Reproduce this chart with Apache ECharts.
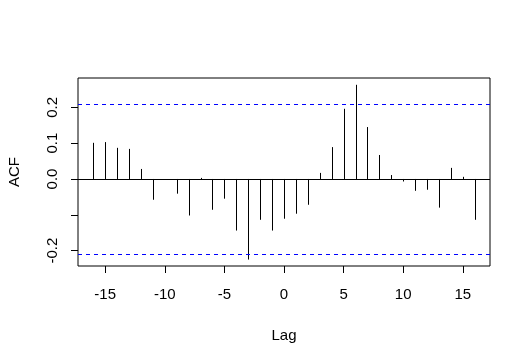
<!DOCTYPE html>
<html>
<head>
<meta charset="utf-8">
<script src="https://cdn.jsdelivr.net/npm/echarts@6/dist/echarts.min.js"></script>
<style>html,body{margin:0;padding:0;background:#fff}#c{width:531px;height:364px}</style>
</head>
<body>
<div id="c"></div>
<script>
var lags = [-16,-15,-14,-13,-12,-11,-10,-9,-8,-7,-6,-5,-4,-3,-2,-1,0,1,2,3,4,5,6,7,8,9,10,11,12,13,14,15,16];
var acf = [0.101,0.103,0.087,0.084,0.028,-0.058,0.000,-0.041,-0.102,0.003,-0.086,-0.055,-0.144,-0.225,-0.114,-0.144,-0.111,-0.097,-0.072,0.017,0.089,0.196,0.263,0.145,0.067,0.011,-0.007,-0.033,-0.030,-0.080,0.031,0.006,-0.114];
var ciBound = 0.208;
var xTicks = [-15,-10,-5,0,5,10,15];
var yTicks = [-0.2,-0.1,0.0,0.1,0.2];
var yLabels = [-0.2,0.0,0.1,0.2];

var font = 'Liberation Sans, Arial, sans-serif';
var chart = echarts.init(document.getElementById('c'), null, {renderer:'canvas'});
var data = lags.map(function(l,i){return [l, acf[i]];});
chart.setOption({
  animation:false,
  backgroundColor:'#fff',
  grid:{left:78, right:41, top:78, bottom:98, show:true, borderColor:'#000', borderWidth:1, backgroundColor:'transparent', outerBoundsMode:'none', containLabel:false},
  xAxis:{
    type:'value', min:-17.28, max:17.28,
    name:'Lag', nameLocation:'middle', nameGap:62,
    nameTextStyle:{color:'#000', fontSize:15, fontFamily:font},
    axisLine:{show:false, onZero:false},
    splitLine:{show:false},
    axisTick:{show:true, inside:false, length:7, customValues:xTicks, lineStyle:{color:'#000', width:1}},
    axisLabel:{show:true, customValues:xTicks, margin:21, color:'#000', fontSize:15, fontFamily:font,
      formatter:function(v){return String(v);}}
  },
  yAxis:{
    type:'value', min:-0.243, max:0.282,
    name:'ACF', nameLocation:'middle', nameGap:56, nameRotate:90,
    nameTextStyle:{color:'#000', fontSize:15, fontFamily:font},
    axisLine:{show:false, onZero:false},
    splitLine:{show:false},
    axisTick:{show:true, inside:false, length:7, customValues:yTicks, lineStyle:{color:'#000', width:1}},
    axisLabel:{show:true, customValues:yLabels, rotate:90, margin:18, color:'#000', fontSize:15, fontFamily:font,
      formatter:function(v){return Number(v).toFixed(1);}}
  },
  series:[{
    type:'custom',
    data:data,
    renderItem:function(params, api){
      var p0 = api.coord([api.value(0), 0]);
      var p1 = api.coord([api.value(0), api.value(1)]);
      var x = Math.round(p0[0]) + 0.5;
      return {type:'line', shape:{x1:x, y1:p0[1], x2:x, y2:p1[1]}, style:{stroke:'#000', lineWidth:1}};
    },
    markLine:{
      silent:true, symbol:['none','none'], label:{show:false},
      data:[
        {yAxis:0, lineStyle:{color:'#000', type:'solid', width:1}},
        {yAxis:ciBound, lineStyle:{color:'#0000FF', type:[4,4], width:1}},
        {yAxis:-ciBound, lineStyle:{color:'#0000FF', type:[4,4], width:1}}
      ]
    }
  }]
});
</script>
</body>
</html>
